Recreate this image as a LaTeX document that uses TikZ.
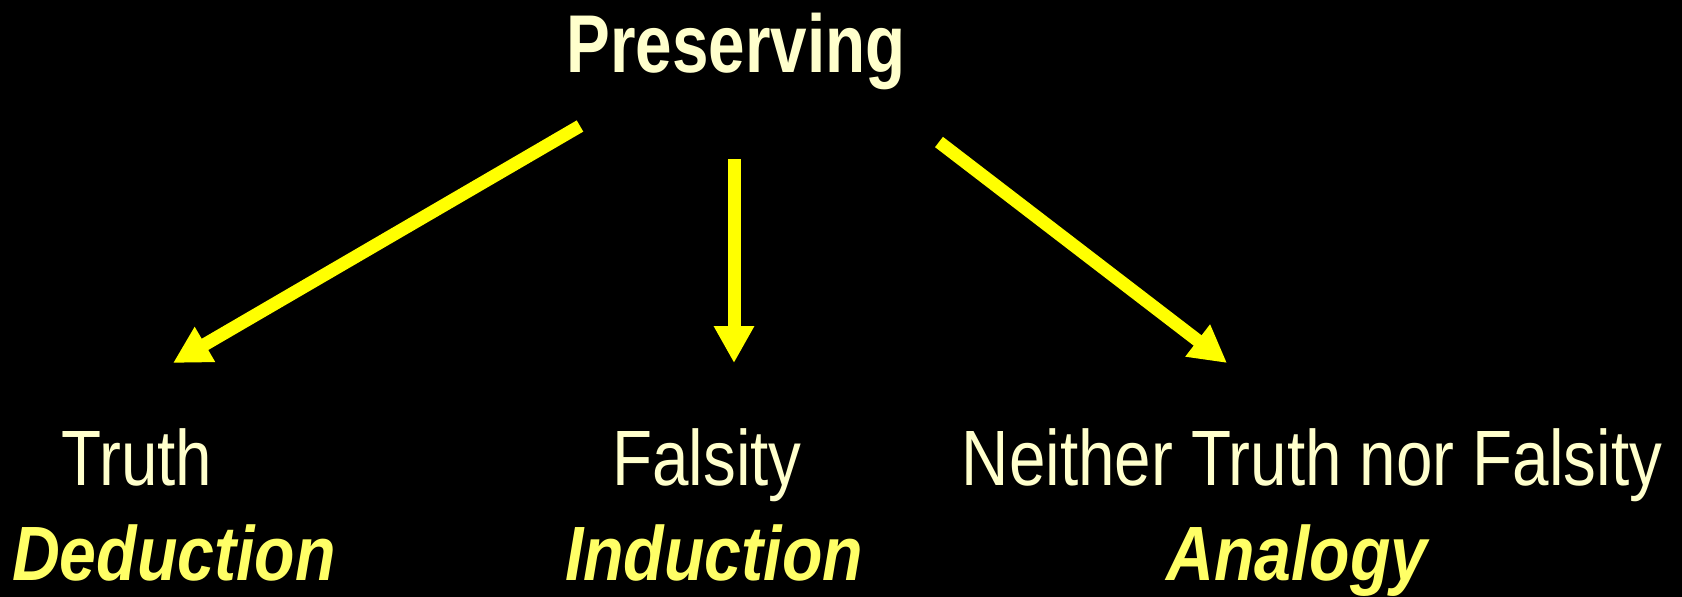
\documentclass[tikz,border=0pt]{standalone}
\usepackage{fontspec}
\setmainfont{Liberation Sans}[FakeStretch=0.835]
\newfontfamily\methfont{Liberation Sans}[FakeStretch=0.86]
\newfontfamily\headfont{Liberation Sans}[FakeStretch=0.80]
\usetikzlibrary{arrows.meta}
\definecolor{pale}{HTML}{FFFFCC}
\definecolor{gold}{HTML}{FFFF66}
\definecolor{arrowyellow}{HTML}{FFFF00}
\begin{document}
\begin{tikzpicture}[x=1pt,y=-1pt,
  lbl/.style={anchor=base, inner sep=0pt, text=pale, font=\fontsize{78.5}{90}\selectfont},
  meth/.style={anchor=base, inner sep=0pt, text=gold, font=\methfont\fontsize{77}{90}\selectfont\bfseries\itshape},
  headlbl/.style={anchor=base, inner sep=0pt, text=pale, font=\headfont\fontsize{82}{90}\selectfont\bfseries},
  arr/.style={draw=arrowyellow, line width=13pt, -{Triangle[length=37pt,width=38pt]}}
]
\fill[black] (0,0) rectangle (1682,597);
\useasboundingbox (0,0) rectangle (1682,597);

\node[headlbl] (pres) at (736,72) {Preserving};

\node[lbl] (truth) at (137,485) {Truth};
\node[lbl] (fals) at (707,485) {Falsity};
\node[lbl] (neither) at (1312,485) {Neither Truth nor Falsity};

\node[meth] (ded) at (174,580) {Deduction};
\node[meth] (ind) at (714,580) {Induction};
\node[meth] (ana) at (1297,580) {Analogy};

\coordinate (s1) at (580,126);
\coordinate (t1) at (173,363);
\coordinate (s2) at (734,159);
\coordinate (t2) at (734,363);
\coordinate (s3) at (939,142);
\coordinate (t3) at (1227,363);

\draw[arr] (s1) -- (t1);
\draw[arr] (s2) -- (t2);
\draw[arr] (s3) -- (t3);
\end{tikzpicture}
\end{document}
